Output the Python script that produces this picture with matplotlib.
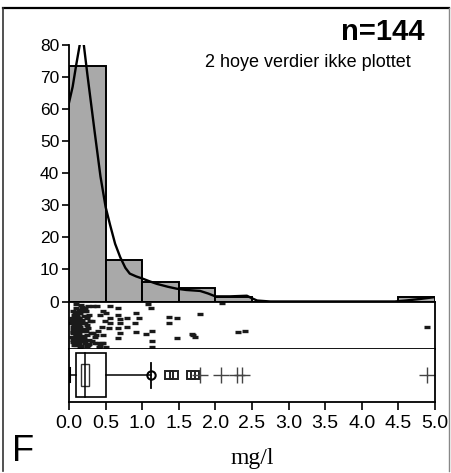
import matplotlib
matplotlib.use("Agg")
import matplotlib.pyplot as plt
from matplotlib.patches import Rectangle
from matplotlib.lines import Line2D

# histogram (percent per 0.5 mg/l class)
bin_edges = [0.0, 0.5, 1.0, 1.5, 2.0, 2.5, 3.0, 3.5, 4.0, 4.5, 5.0]
bin_heights = [73.5, 13, 6, 4.2, 1.5, 0, 0, 0, 0, 1.5]

# density curve
dens_x = [0.0, 0.05, 0.10, 0.15, 0.17, 0.20, 0.25, 0.30, 0.35, 0.43, 0.50, 0.56,
          0.63, 0.70, 0.77, 0.83, 0.92, 1.01, 1.10, 1.20, 1.35, 1.47, 1.60, 1.79,
          1.90, 2.00, 2.20, 2.43, 2.50, 2.57, 2.75, 3.5, 4.45, 4.6, 4.8, 4.97]
dens_y = [62, 67, 74, 80.5, 82, 80.5, 71, 62, 53, 39, 29.5, 24,
          18, 13.8, 10.5, 8.7, 7.8, 7.1, 6.3, 5.5, 4.6, 4.0, 3.6, 3.3,
          2.5, 1.6, 1.6, 1.8, 1.0, 0.3, 0, 0, 0, 0.3, 0.8, 1.3]

# one-dimensional scatter (value, vertical position in strip)
strip_x = [0.10, 0.13, 0.08, 0.15, 0.20, 0.10, 0.17, 0.24, 0.08, 0.15, 0.22, 0.29,
           0.06, 0.13, 0.20, 0.26, 0.08, 0.17, 0.24, 0.33, 0.06, 0.13, 0.22, 0.31,
           0.38, 0.45, 0.26, 0.33, 0.38, 0.47, 0.42, 0.51, 0.56, 0.49, 0.56, 0.45,
           0.54, 0.40, 0.47, 0.36, 0.56, 0.67, 0.67, 0.70, 0.79, 0.70, 0.67, 0.70,
           0.79, 0.67, 0.47, 0.42,
           0.10, 0.16, 0.23, 0.07, 0.14, 0.21, 0.28, 0.10, 0.19, 0.25, 0.32, 0.07,
           0.16, 0.23, 0.12, 0.21, 0.30, 0.37, 0.10, 0.19, 0.28, 0.07, 0.16, 0.25,
           0.35, 0.41, 0.51, 0.12, 0.05, 0.09, 0.14, 0.18, 0.11, 0.06, 0.19, 0.27,
           0.04, 0.12, 0.09, 0.16,
           0.05, 0.08, 0.11, 0.14, 0.04, 0.07, 0.12, 0.18, 0.05, 0.09, 0.13, 0.20,
           0.06, 0.10, 0.15, 0.22, 0.04, 0.08, 0.13, 0.17, 0.26, 0.05, 0.11, 0.19,
           0.03, 0.07, 0.14, 0.24, 0.09, 0.18,
           0.92, 0.95, 0.90, 0.92, 1.05, 1.08, 1.12, 1.14, 1.14, 1.13,
           1.36, 1.47, 1.36, 1.79, 1.68, 1.47, 1.70, 1.72, 2.09, 2.31, 2.40, 4.89]
strip_y = [0.94, 0.83, 0.72, 0.76, 0.79, 0.62, 0.58, 0.69, 0.51, 0.47, 0.55, 0.58,
           0.40, 0.33, 0.37, 0.44, 0.26, 0.23, 0.30, 0.33, 0.19, 0.16, 0.13, 0.16,
           0.12, 0.12, 0.90, 0.90, 0.91, 0.79, 0.72, 0.76, 0.65, 0.58, 0.55, 0.47,
           0.44, 0.37, 0.30, 0.26, 0.90, 0.87, 0.72, 0.63, 0.65, 0.55, 0.44, 0.33,
           0.47, 0.23, 0.12, 0.06,
           0.87, 0.83, 0.79, 0.72, 0.65, 0.69, 0.72, 0.58, 0.55, 0.51, 0.58, 0.44,
           0.40, 0.37, 0.30, 0.26, 0.33, 0.30, 0.19, 0.16, 0.19, 0.085, 0.06, 0.06,
           0.12, 0.05, 0.05, 0.50, 0.35, 0.28, 0.48, 0.62, 0.68, 0.55, 0.43, 0.10,
           0.25, 0.38, 0.15, 0.92,
           0.80, 0.76, 0.70, 0.64, 0.60, 0.53, 0.45, 0.41, 0.33, 0.28, 0.22, 0.20,
           0.14, 0.09, 0.04, 0.86, 0.66, 0.41, 0.10, 0.07, 0.08, 0.47, 0.35, 0.27,
           0.55, 0.22, 0.57, 0.66, 0.78, 0.88,
           0.76, 0.65, 0.55, 0.35, 0.32, 0.94, 0.87, 0.37, 0.16, 0.05,
           0.67, 0.65, 0.55, 0.74, 0.32, 0.24, 0.30, 0.25, 0.96, 0.35, 0.37, 0.47]

# box plot statistics
box_min = 0.01
box_q1, box_q3 = 0.09, 0.51
box_median = 0.22
notch_lo, notch_hi = 0.16, 0.27
whisker_hi = 1.12
out_circle = [1.12]
out_square = [1.36, 1.43, 1.66, 1.72]
out_cross = [1.79, 2.07, 2.30, 2.36, 4.89]

xticks = [0.0, 0.5, 1.0, 1.5, 2.0, 2.5, 3.0, 3.5, 4.0, 4.5, 5.0]
yticks = [0, 10, 20, 30, 40, 50, 60, 70, 80]

sans = ['Liberation Sans', 'DejaVu Sans']

W, H = 451, 473
fig = plt.figure(figsize=(W / 100, H / 100), dpi=100)

def box(px0, py0, px1, py1):
    # pixel box (top-left origin) -> figure fraction rect
    return [px0 / W, 1 - py1 / H, (px1 - px0) / W, (py1 - py0) / H]

ax_h = fig.add_axes(box(69, 45, 435, 301.5))
ax_s = fig.add_axes(box(69, 301.5, 435, 349), sharex=ax_h)
ax_b = fig.add_axes(box(69, 349, 435, 402), sharex=ax_h)

# histogram
widths = [bin_edges[i + 1] - bin_edges[i] for i in range(len(bin_heights))]
ax_h.bar(bin_edges[:-1], bin_heights, width=widths, align='edge',
         color='#a9a9a9', edgecolor='black', linewidth=1.4)
ax_h.plot(dens_x, dens_y, color='black', lw=1.7)
ax_h.set_ylim(0, 80)
ax_h.set_xlim(0, 5.0)
for s in ['top', 'right', 'bottom']:
    ax_h.spines[s].set_visible(False)
ax_h.spines['left'].set_linewidth(1.3)
ax_h.set_yticks(yticks)
ax_h.set_yticklabels([str(v) for v in yticks], family=sans, fontsize=12.5)
ax_h.tick_params(axis='y', direction='out', length=5, width=1.2, pad=2)
ax_h.tick_params(axis='x', bottom=False, labelbottom=False)

ax_h.text(0.97, 1.05, 'n=144', transform=ax_h.transAxes, ha='right', va='center',
          family=sans, fontsize=21, fontweight='bold')
ax_h.text(0.935, 0.93, '2 hoye verdier ikke plottet', transform=ax_h.transAxes,
          ha='right', va='center', family=sans, fontsize=13)

# strip of single values
ax_s.plot(strip_x, strip_y, ls='none', marker='_', ms=4.5, mew=2.4, color='#1a1a1a')
ax_s.set_ylim(0, 1)
ax_s.set_yticks([])
ax_s.tick_params(axis='x', bottom=False, labelbottom=False)
for s in ax_s.spines.values():
    s.set_linewidth(1.3)

# box plot
yc = 0.51
ax_b.add_patch(Rectangle((box_q1, 0.10), box_q3 - box_q1, 0.82, fill=False,
                         lw=1.2, ec='black'))
ax_b.add_patch(Rectangle((notch_lo, 0.30), notch_hi - notch_lo, 0.42, fill=False,
                         lw=1.0, ec='#333333'))
ax_b.plot([box_median, box_median], [0.10, 0.92], color='black', lw=1.1)
ax_b.plot([box_min, box_q1], [yc, yc], color='black', lw=1.1)
ax_b.plot([box_min, box_min], [0.38, 0.64], color='black', lw=1.5)
ax_b.plot([box_q3, whisker_hi], [yc, yc], color='black', lw=1.1)
ax_b.plot([whisker_hi, whisker_hi], [0.26, 0.74], color='black', lw=1.3)
ax_b.plot(out_circle, [yc] * len(out_circle), ls='none', marker='o', ms=6,
          mfc='none', mec='black', mew=1.5)
ax_b.plot(out_square, [yc] * len(out_square), ls='none', marker='s', ms=6,
          mfc='none', mec='#222222', mew=1.4)
ax_b.plot(out_cross, [yc] * len(out_cross), ls='none', marker='+', ms=12,
          mec='#444444', mew=1.0)
ax_b.set_ylim(0, 1)
ax_b.set_yticks([])
ax_b.spines['top'].set_visible(False)
for s in ['left', 'right', 'bottom']:
    ax_b.spines[s].set_linewidth(1.3)
ax_b.set_xticks(xticks)
ax_b.set_xticklabels(['%.1f' % v for v in xticks], family=sans, fontsize=14)
ax_b.tick_params(axis='x', direction='out', length=6, width=1.2, pad=3)
ax_b.set_xlabel('mg/l', family=['Liberation Serif', 'DejaVu Serif'], fontsize=17,
                labelpad=12)

fig.text(12 / W, 1 - 451 / H, 'F', family=sans, fontsize=26, va='center', ha='left')

# outer frame of the panel
fig.add_artist(Line2D([3 / W, 449 / W], [1 - 8 / H, 1 - 8 / H], color='black',
                      lw=1.6, transform=fig.transFigure))
fig.add_artist(Line2D([3 / W, 3 / W], [1 - 8 / H, 1 - 471 / H], color='#333333',
                      lw=1.2, transform=fig.transFigure))
fig.add_artist(Line2D([449 / W, 449 / W], [1 - 8 / H, 1 - 471 / H], color='#888888',
                      lw=1.0, transform=fig.transFigure))

fig.savefig('out.png', dpi=100)
